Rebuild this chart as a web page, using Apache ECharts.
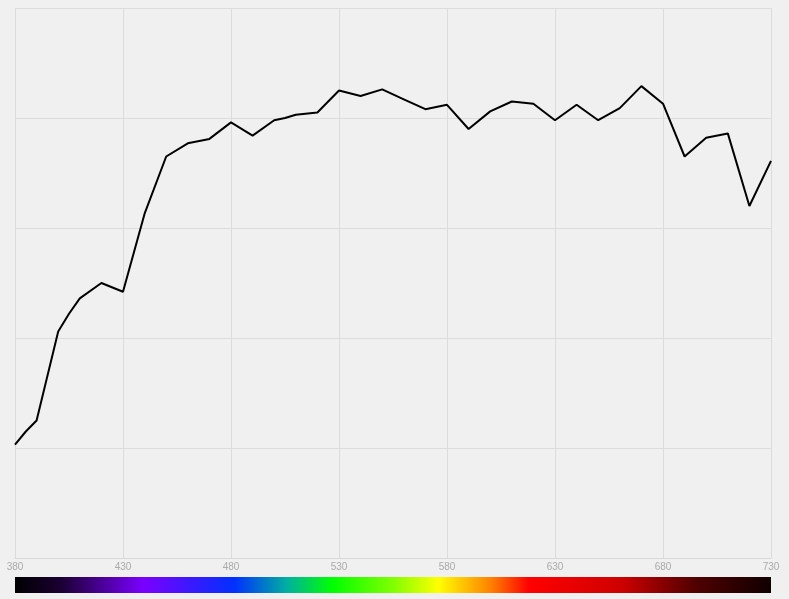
<!DOCTYPE html>
<html><head><meta charset="utf-8">
<script src="https://cdn.jsdelivr.net/npm/echarts@6/dist/echarts.min.js"></script>
<style>html,body{margin:0;background:#f0f0f0}#c{width:789px;height:599px}</style>
</head><body><div id="c"></div>
<script>
const wavelengths=[380,385,390,400,405,410,420,430,440,450,460,470,480,490,500,505,510,520,530,540,550,560,570,580,590,600,610,620,630,640,650,660,670,680,690,700,710,720,730];
const values=[1.03,1.15,1.25,2.06,2.22,2.36,2.50,2.42,3.13,3.65,3.77,3.81,3.96,3.84,3.98,4.0,4.03,4.05,4.25,4.2,4.26,4.17,4.08,4.12,3.9,4.06,4.15,4.13,3.98,4.12,3.98,4.09,4.29,4.13,3.65,3.82,3.86,3.2,3.61];
const xTicks=[380,430,480,530,580,630,680,730];
const chart=echarts.init(document.getElementById('c'));
chart.setOption({
  backgroundColor:'#f0f0f0',animation:false,
  grid:{left:15,right:18,top:8,bottom:41},
  xAxis:{type:'value',min:380,max:730,interval:50,
    axisLine:{lineStyle:{color:'#d8d8d8'}},axisTick:{show:false},
    axisLabel:{color:'#aaa',fontSize:10,margin:4,formatter:v=>xTicks.includes(v)?String(v):''},
    splitLine:{lineStyle:{color:'#dcdcdc',width:1}}},
  yAxis:{type:'value',min:0,max:5,interval:1,axisLabel:{show:false},axisLine:{show:false},axisTick:{show:false},
    splitLine:{lineStyle:{color:'#dcdcdc',width:1}}},
  series:[{type:'line',data:wavelengths.map((w,i)=>[w,values[i]]),symbol:'none',lineStyle:{color:'#000',width:2}}],
  graphic:[{type:'rect',shape:{x:15,y:577,width:756,height:16},style:{fill:new echarts.graphic.LinearGradient(0,0,1,0,[
    {offset:0,color:'#000000'},{offset:0.06,color:'#1a0030'},{offset:0.17,color:'#7a00ff'},{offset:0.29,color:'#0030ff'},
    {offset:0.36,color:'#00b0a0'},{offset:0.42,color:'#00ff00'},{offset:0.50,color:'#80ff00'},{offset:0.56,color:'#ffff00'},
    {offset:0.63,color:'#ff8000'},{offset:0.68,color:'#ff0000'},{offset:0.80,color:'#d00000'},{offset:0.90,color:'#500000'},{offset:1,color:'#100000'}])}}]
});
</script></body></html>
